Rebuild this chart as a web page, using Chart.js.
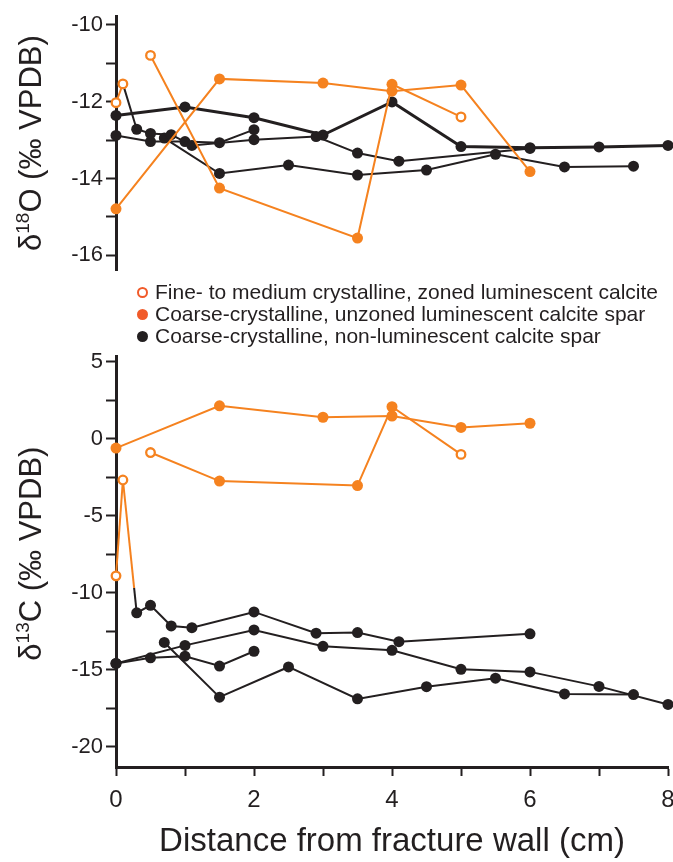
<!DOCTYPE html>
<html><head><meta charset="utf-8">
<script src="https://cdn.jsdelivr.net/npm/chart.js@4.4.1/dist/chart.umd.min.js"></script>
<style>
html,body{margin:0;padding:0;background:#fff;width:673px;height:862px;overflow:hidden;font-family:"Liberation Sans",Arial,sans-serif;}
#c1{position:absolute;left:0;top:0;}
#c2{position:absolute;left:0;top:340px;}
#legend{position:absolute;left:137px;top:281px;font-size:21px;color:#231F20;}
.row{display:flex;align-items:center;height:22px;white-space:nowrap;}
.mk{display:inline-block;box-sizing:border-box;width:11px;height:11px;border-radius:50%;margin-right:7px;}
</style></head>
<body>
<canvas id="c1" width="673" height="290"></canvas>
<canvas id="c2" width="673" height="522"></canvas>
<div id="legend">
  <div class="row"><span class="mk" style="border:2.5px solid #F15A29;background:#fff"></span>Fine- to medium crystalline, zoned luminescent calcite</div>
  <div class="row"><span class="mk" style="background:#F15A29"></span>Coarse-crystalline, unzoned luminescent calcite spar</div>
  <div class="row"><span class="mk" style="background:#231F20"></span>Coarse-crystalline, non-luminescent calcite spar</div>
</div>
<script>
// ---------- DATA ----------
const xTicks = [0,1,2,3,4,5,6,7,8];
const o18Ticks = [-10,-11,-12,-13,-14,-15,-16];
const c13Ticks = [5,2.5,0,-2.5,-5,-7.5,-10,-12.5,-15,-17.5,-20];

// Sample profile A (coarse unzoned luminescent spar)
const aX = [0, 1.5, 3.0, 4.0, 5.0, 6.0];
const aO = [-14.79, -11.41, -11.52, -11.73, -11.57, -13.82];
const aC = [-0.61, 2.13, 1.39, 1.47, 0.73, 1.0];
const aType = ['unzoned','unzoned','unzoned','unzoned','unzoned','unzoned'];

// Sample profile B
const bX = [0.5, 1.5, 3.5, 4.0, 5.0];
const bO = [-10.80, -14.25, -15.55, -11.55, -12.40];
const bC = [-0.90, -2.75, -3.04, 2.07, -1.02];
const bType = ['fine','unzoned','unzoned','unzoned','fine'];

// Sample profile C
const cX = [0.0, 0.1, 0.3, 0.5, 0.8, 1.1, 2.0, 2.9, 3.5, 4.1, 6.0];
const cO = [-12.03, -11.54, -12.72, -12.83, -12.86, -13.14, -12.99, -12.91, -13.34, -13.55, -13.22];
const cC = [-8.9, -2.68, -11.3, -10.81, -12.15, -12.26, -11.24, -12.62, -12.58, -13.17, -12.66];
const cType = ['fine','fine','non','non','non','non','non','non','non','non','non'];

// Sample profile D
const dX = [0, 0.5, 1.0, 1.5, 2.0];
const dO = [-12.88, -13.04, -13.04, -13.07, -12.73];
const dC = [-14.58, -14.22, -14.11, -14.75, -13.79];
const dType = ['non','non','non','non','non'];

// Sample profile E
const eX = [0.7, 1.5, 2.5, 3.5, 4.5, 5.5, 6.5, 7.5];
const eO = [-12.95, -13.87, -13.65, -13.91, -13.78, -13.37, -13.70, -13.68];
const eC = [-13.22, -16.77, -14.81, -16.88, -16.09, -15.54, -16.56, -16.60];
const eType = ['non','non','non','non','non','non','non','non'];

// Sample profile F
const fX = [0, 1, 2, 3, 4, 5, 6, 7, 8];
const fO = [-12.36, -12.14, -12.42, -12.87, -12.01, -13.17, -13.20, -13.18, -13.14];
const fC = [-14.58, -13.41, -12.41, -13.47, -13.73, -14.96, -15.13, -16.07, -17.24];
const fType = ['non','non','non','non','non','non','non','non','non'];

// ---------- STYLE ----------
const ORANGE = '#F5821F', BLACK = '#231F20';
const FONT = '"Liberation Sans", Arial, sans-serif';
const colorOf = t => (t === 'non' ? BLACK : ORANGE);

function makeSeries(label, xs, ys, types, mix, bw) {
  return {
    label,
    data: xs.map((x, i) => ({x, y: ys[i]})),
    showLine: true,
    tension: 0,
    clip: false,
    borderWidth: bw || 2,
    borderColor: colorOf(types[0]),
    pointRadius: c => types[c.dataIndex] === 'fine' ? 4.3 : 5.5,
    pointBorderWidth: c => types[c.dataIndex] === 'fine' ? 2.3 : 0,
    pointBackgroundColor: c => types[c.dataIndex] === 'fine' ? '#ffffff' : colorOf(types[c.dataIndex]),
    pointBorderColor: c => colorOf(types[c.dataIndex]),
    segment: {
      borderColor: sc => {
        const c0 = colorOf(types[sc.p0DataIndex]), c1 = colorOf(types[sc.p1DataIndex]);
        if (c0 === c1) return c0;
        if (mix <= 0) return c1;
        const g = sc.chart.ctx.createLinearGradient(sc.p0.x, sc.p0.y, sc.p1.x, sc.p1.y);
        g.addColorStop(0, c0); g.addColorStop(mix, c0); g.addColorStop(mix, c1); g.addColorStop(1, c1);
        return g;
      }
    }
  };
}

const yTitlePlugin = {
  id: 'ytitle',
  afterDraw(chart, args, o) {
    const {ctx, chartArea} = chart;
    const size = o.size, supSize = Math.round(size * 0.62);
    ctx.save();
    ctx.fillStyle = BLACK;
    ctx.textBaseline = 'alphabetic';
    const parts = o.parts;
    let total = 0;
    parts.forEach(p => { ctx.font = `${p.sup ? supSize : size}px ${FONT}`; p.w = ctx.measureText(p.t).width; total += p.w; });
    ctx.translate(o.x, (chartArea.top + chartArea.bottom) / 2 + (o.dy || 0));
    ctx.rotate(-Math.PI / 2);
    let cx = -total / 2;
    const base = size * 0.36;
    parts.forEach(p => {
      ctx.font = `${p.sup ? supSize : size}px ${FONT}`;
      ctx.fillText(p.t, cx, p.sup ? base - size * 0.38 : base);
      cx += p.w;
    });
    ctx.restore();
  }
};

function yScale(min, max, ticks, labelFn) {
  return {
    type: 'linear', min, max,
    afterBuildTicks: s => { s.ticks = ticks.map(v => ({value: v})); },
    afterFit: s => { s.width = 116; },
    border: {display: true, color: BLACK, width: 3},
    grid: {display: true, drawOnChartArea: false, drawTicks: true, tickLength: 10, tickWidth: 2, tickColor: BLACK, color: BLACK},
    ticks: {color: BLACK, font: {family: FONT, size: 22}, padding: 3, callback: labelFn}
  };
}

const common = {
  responsive: false, animation: false, events: [],
  plugins: {legend: {display: false}, tooltip: {enabled: false}}
};

// ---------- TOP: d18O ----------
new Chart(document.getElementById('c1'), {
  type: 'scatter',
  data: {datasets: [
    makeSeries('A', aX, aO, aType, 0),
    makeSeries('B', bX, bO, bType, 0),
    makeSeries('C', cX, cO, cType, 0),
    makeSeries('D', dX, dO, dType, 0),
    makeSeries('E', eX, eO, eType, 0),
    makeSeries('F', fX, fO, fType, 0, 3)
  ]},
  options: Object.assign({}, common, {
    layout: {autoPadding: false, padding: {top: 12, bottom: 20, left: 0, right: 5}},
    scales: {
      x: {type: 'linear', min: 0, max: 8, display: false},
      y: yScale(-16.38, -9.78, o18Ticks, v => (v % 2 === 0 ? String(v) : ''))
    },
    plugins: Object.assign({}, common.plugins, {
      ytitle: {x: 30, size: 31, parts: [{t: 'δ'}, {t: '18', sup: true}, {t: 'O (‰ VPDB)'}]}
    })
  }),
  plugins: [yTitlePlugin]
});

// ---------- BOTTOM: d13C ----------
new Chart(document.getElementById('c2'), {
  type: 'scatter',
  data: {datasets: [
    makeSeries('A', aX, aC, aType, 0),
    makeSeries('B', bX, bC, bType, 0),
    makeSeries('C', cX, cC, cType, 0.81),
    makeSeries('D', dX, dC, dType, 0),
    makeSeries('E', eX, eC, eType, 0),
    makeSeries('F', fX, fC, fType, 0)
  ]},
  options: Object.assign({}, common, {
    layout: {autoPadding: false, padding: {top: 12, bottom: 0, left: 0, right: 5}},
    scales: {
      x: {
        type: 'linear', min: 0, max: 8,
        afterBuildTicks: s => { s.ticks = xTicks.map(v => ({value: v})); },
        afterFit: s => { s.height = 95; s.paddingLeft = 0; s.paddingRight = 0; },
        border: {display: true, color: BLACK, width: 3},
        grid: {display: true, drawOnChartArea: false, drawTicks: true, tickLength: 9, tickWidth: 2, tickColor: BLACK, color: BLACK},
        ticks: {color: BLACK, font: {family: FONT, size: 24}, padding: 10, maxRotation: 0, autoSkip: false,
                callback: v => (v % 2 === 0 ? String(v) : '')},
        title: {display: true, text: 'Distance from fracture wall (cm)', color: BLACK,
                font: {family: FONT, size: 33}, padding: {top: 0, bottom: 0}}
      },
      y: yScale(-21.3, 5.35, c13Ticks, v => (v % 5 === 0 ? String(v) : ''))
    },
    plugins: Object.assign({}, common.plugins, {
      ytitle: {x: 30, size: 31, dy: -8, parts: [{t: 'δ'}, {t: '13', sup: true}, {t: 'C (‰ VPDB)'}]}
    })
  }),
  plugins: [yTitlePlugin]
});
</script>
</body></html>
